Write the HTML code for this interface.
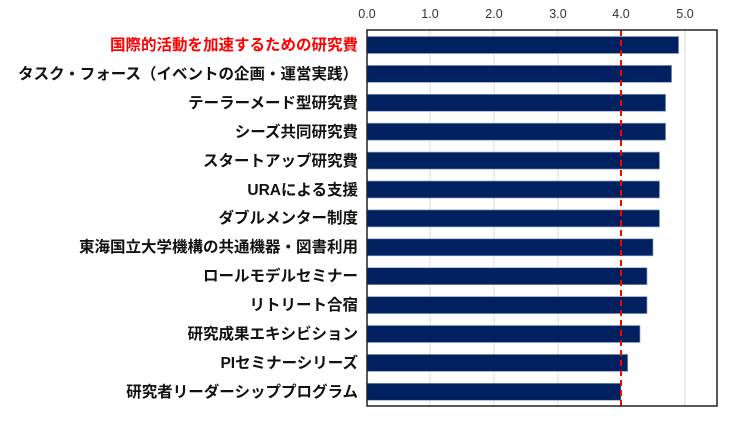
<!DOCTYPE html>
<html><head><meta charset="utf-8"><style>
body{margin:0;background:#fff;width:737px;height:419px;overflow:hidden;font-family:"Liberation Sans","Noto Sans CJK JP",sans-serif}
</style></head><body>
<svg width="737" height="419" xmlns="http://www.w3.org/2000/svg" font-family="Liberation Sans, Noto Sans CJK JP, sans-serif">
<g stroke="#d9d9d9" stroke-width="1">
<line x1="430" y1="30" x2="430" y2="406"/><line x1="494" y1="30" x2="494" y2="406"/>
<line x1="558" y1="30" x2="558" y2="406"/><line x1="685" y1="30" x2="685" y2="406"/>
</g>
<g font-size="12.5" fill="#333" text-anchor="middle">
<text x="367" y="18">0.0</text><text x="430" y="18">1.0</text><text x="494" y="18">2.0</text>
<text x="558" y="18">3.0</text><text x="621" y="18">4.0</text><text x="685" y="18">5.0</text>
</g>
<g fill="#002060" stroke="#8ea4c8" stroke-width="0.7">
<rect x="367" y="36.5" width="311.6" height="17"/>
<rect x="367" y="65.4" width="304.6" height="17"/>
<rect x="367" y="94.3" width="298.6" height="17"/>
<rect x="367" y="123.2" width="298.6" height="17"/>
<rect x="367" y="152.1" width="292.5" height="17"/>
<rect x="367" y="181.0" width="292.5" height="17"/>
<rect x="367" y="209.9" width="292.5" height="17"/>
<rect x="367" y="238.8" width="286" height="17"/>
<rect x="367" y="267.7" width="280" height="17"/>
<rect x="367" y="296.6" width="280" height="17"/>
<rect x="367" y="325.5" width="273" height="17"/>
<rect x="367" y="354.4" width="260.7" height="17"/>
<rect x="367" y="383.3" width="254" height="17"/>
</g>
<line x1="621" y1="30" x2="621" y2="406" stroke="#ff0000" stroke-width="2" stroke-dasharray="6,4"/>
<rect x="367" y="30" width="350" height="376" fill="none" stroke="#222" stroke-width="1.5"/>
<g font-size="15.5" font-weight="bold" fill="#111" text-anchor="end">
<text x="358" y="50" fill="#ff0000">国際的活動を加速するための研究費</text>
<text x="358" y="79">タスク・フォース（イベントの企画・運営実践）</text>
<text x="358" y="108">テーラーメード型研究費</text>
<text x="358" y="137">シーズ共同研究費</text>
<text x="358" y="166">スタートアップ研究費</text>
<text x="358" y="195">URAによる支援</text>
<text x="358" y="223">ダブルメンター制度</text>
<text x="358" y="252">東海国立大学機構の共通機器・図書利用</text>
<text x="358" y="281">ロールモデルセミナー</text>
<text x="358" y="310">リトリート合宿</text>
<text x="358" y="339">研究成果エキシビション</text>
<text x="358" y="368">PIセミナーシリーズ</text>
<text x="358" y="397">研究者リーダーシッププログラム</text>
</g>
</svg>
</body></html>
